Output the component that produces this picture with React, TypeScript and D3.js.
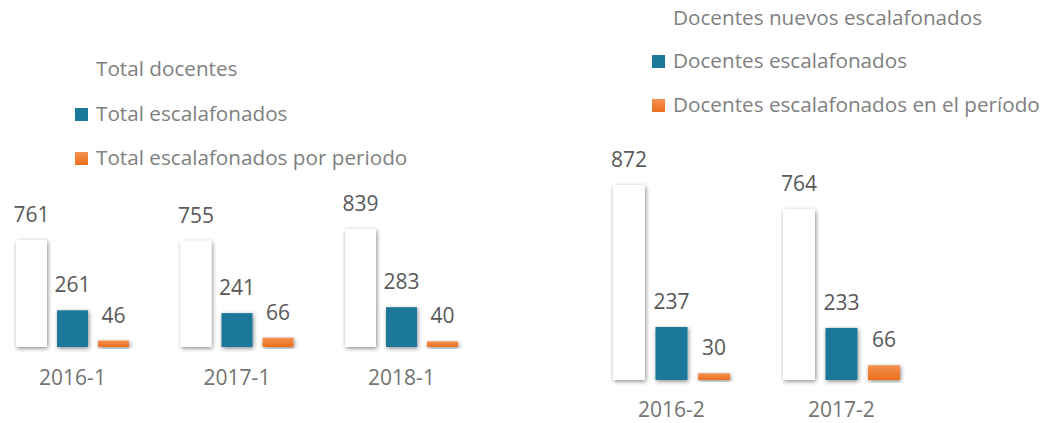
import React from "react";
import * as d3 from "d3";

const leftCategories = ["2016-1", "2017-1", "2018-1"];
const leftSeries = ["Total docentes", "Total escalafonados", "Total escalafonados por periodo"];
const leftTotal = [761, 755, 839];
const leftEscalafonados = [261, 241, 283];
const leftPeriodo = [46, 66, 40];

const rightCategories = ["2016-2", "2017-2"];
const rightSeries = ["Docentes nuevos escalafonados", "Docentes escalafonados", "Docentes escalafonados en el período"];
const rightTotal = [872, 764];
const rightEscalafonados = [237, 233];
const rightPeriodo = [30, 66];

const FONT = "'Open Sans', 'Noto Sans', sans-serif";
const fills = ["#ffffff", "#1c7898", "url(#orangeGrad)"];

type ChartProps = {
  cats: string[];
  series: string[];
  values: number[][];
  x0: number;
  x1: number;
  baseline: number;
  pxPerUnit: number;
  groupPad: number;
  barPad: number;
  labelOffset: number;
  legendX: number;
  legendTextX: number;
  legendBaselines: number[];
};

function Chart(p: ChartProps) {
  const y = d3.scaleLinear().domain([0, 1000]).range([p.baseline, p.baseline - 1000 * p.pxPerUnit]);
  const xg = d3.scaleBand<string>().domain(p.cats).range([p.x0, p.x1]).paddingInner(p.groupPad).paddingOuter(0);
  const xs = d3.scaleBand<number>().domain([0, 1, 2]).range([0, xg.bandwidth()]).paddingInner(p.barPad).paddingOuter(0);
  return (
    <g>
      {p.cats.map((c, i) => (
        <g key={c} transform={`translate(${xg(c)},0)`}>
          {p.values.map((vals, s) => {
            const v = vals[i];
            const bx = xs(s)!;
            const top = y(v);
            return (
              <g key={s}>
                <rect
                  x={bx}
                  y={top}
                  width={xs.bandwidth()}
                  height={p.baseline - top}
                  fill={fills[s]}
                  filter="url(#shadow)"
                />
                <text
                  x={bx + xs.bandwidth() / 2}
                  y={top - 18}
                  textAnchor="middle"
                  fontFamily={FONT}
                  fontSize={21}
                  fill="#595959"
                >
                  {v}
                </text>
              </g>
            );
          })}
          <text
            x={xg.bandwidth() / 2}
            y={p.baseline + p.labelOffset}
            textAnchor="middle"
            fontFamily={FONT}
            fontSize={21}
            fill="#737373"
          >
            {c}
          </text>
        </g>
      ))}
      {p.series.map((s, i) => (
        <g key={s}>
          {i > 0 && (
            <rect
              x={p.legendX}
              y={p.legendBaselines[i] - 13}
              width={13}
              height={13}
              fill={fills[i]}
            />
          )}
          <text
            x={p.legendTextX}
            y={p.legendBaselines[i]}
            fontFamily={FONT}
            fontSize={20.7}
            fill="#7f7f7f"
          >
            {s}
          </text>
        </g>
      ))}
    </g>
  );
}

export default function App() {
  return (
    <svg
      width={1045}
      height={423}
      style={{ position: "absolute", left: 0, top: 0, background: "#fff" }}
    >
      <defs>
        <linearGradient id="orangeGrad" x1="0" y1="0" x2="0" y2="1">
          <stop offset="0%" stopColor="#f39152" />
          <stop offset="100%" stopColor="#ec6f1c" />
        </linearGradient>
        <filter id="shadow" x="-30%" y="-10%" width="160%" height="130%">
          <feDropShadow dx="1" dy="1.5" stdDeviation="2.2" floodColor="#000" floodOpacity="0.45" />
        </filter>
      </defs>
      <Chart
        cats={leftCategories}
        series={leftSeries}
        values={[leftTotal, leftEscalafonados, leftPeriodo]}
        x0={16}
        x1={16 + 164.5 * (3 - 0.313)}
        baseline={347}
        pxPerUnit={0.1406}
        groupPad={0.313}
        barPad={0.244}
        labelOffset={38}
        legendX={75}
        legendTextX={96}
        legendBaselines={[76, 121, 165]}
      />
      <Chart
        cats={rightCategories}
        series={rightSeries}
        values={[rightTotal, rightEscalafonados, rightPeriodo]}
        x0={613}
        x1={613 + 170 * (2 - 0.312)}
        baseline={380}
        pxPerUnit={0.2236}
        groupPad={0.312}
        barPad={0.247}
        labelOffset={37}
        legendX={652}
        legendTextX={673}
        legendBaselines={[25, 68, 112]}
      />
    </svg>
  );
}
